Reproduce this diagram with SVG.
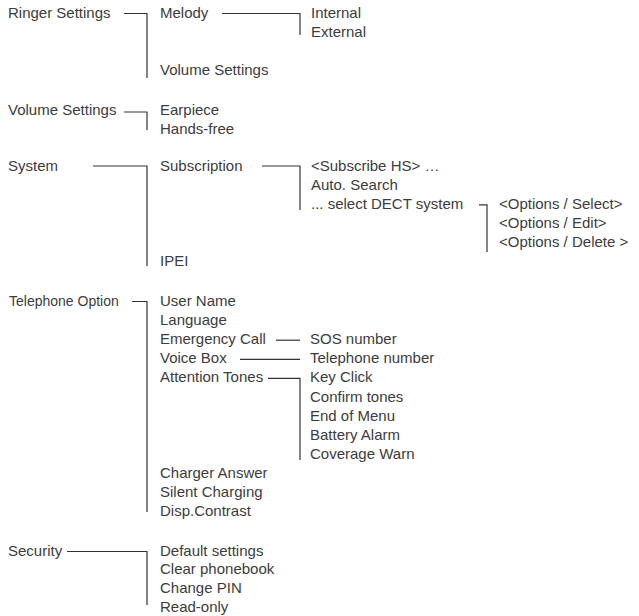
<svg xmlns="http://www.w3.org/2000/svg" width="639" height="616" viewBox="0 0 639 616">
<style>
text{font-family:"Liberation Sans",Arial,Helvetica,sans-serif;font-size:15px;fill:#3c3c3c}
text.s{font-size:14px}
.c path{stroke:#333;stroke-width:1.2;fill:none}
</style>
<rect width="639" height="616" fill="#fff"/>
<g class="c" id="connectors">
<path d="M124 13.5H147V78"/>
<path d="M222 13.5H300V35"/>
<path d="M124 112H147V130"/>
<path d="M93 166H147V266"/>
<path d="M262 166H300V210"/>
<path d="M479 204.8H487V252"/>
<path d="M132 301.5H147V512"/>
<path d="M276 340.2H300"/>
<path d="M240 359.3H300"/>
<path d="M268 378.4H300V460"/>
<path d="M67 551.5H147V605"/>
</g>
<g id="ringer-settings"><text x="8" y="17.5">Ringer Settings</text></g>
<g id="melody"><text x="160" y="17.5">Melody</text></g>
<g id="internal"><text x="311" y="17.5">Internal</text></g>
<g id="external"><text x="311" y="36.5">External</text></g>
<g id="ringer-volume-settings"><text x="160" y="75">Volume Settings</text></g>
<g id="volume-settings"><text x="8" y="114.5">Volume Settings</text></g>
<g id="earpiece"><text x="160" y="114.5">Earpiece</text></g>
<g id="hands-free"><text x="160" y="133.5">Hands-free</text></g>
<g id="system"><text x="8" y="170.5">System</text></g>
<g id="subscription"><text x="160" y="170.5">Subscription</text></g>
<g id="subscribe-hs"><text x="311" y="170.5">&lt;Subscribe HS&gt; …</text></g>
<g id="auto-search"><text x="311" y="189.5">Auto. Search</text></g>
<g id="select-dect"><text x="311" y="208.8">... select DECT system</text></g>
<g id="options-select"><text x="499" y="208.8">&lt;Options / Select&gt;</text></g>
<g id="options-edit"><text x="499" y="228">&lt;Options / Edit&gt;</text></g>
<g id="options-delete"><text x="499" y="247.2">&lt;Options / Delete &gt;</text></g>
<g id="ipei"><text x="160" y="266">IPEI</text></g>
<g id="telephone-option"><text class="s" x="9" y="306">Telephone Option</text></g>
<g id="user-name"><text x="160" y="306">User Name</text></g>
<g id="language"><text x="160" y="325.1">Language</text></g>
<g id="emergency-call"><text x="160" y="344.2">Emergency Call</text></g>
<g id="voice-box"><text x="160" y="363.3">Voice Box</text></g>
<g id="attention-tones"><text x="160" y="382.4">Attention Tones</text></g>
<g id="sos-number"><text x="310" y="344.2">SOS number</text></g>
<g id="telephone-number"><text x="310" y="363.3">Telephone number</text></g>
<g id="key-click"><text x="310" y="382.4">Key Click</text></g>
<g id="confirm-tones"><text x="310" y="401.5">Confirm tones</text></g>
<g id="end-of-menu"><text x="310" y="420.6">End of Menu</text></g>
<g id="battery-alarm"><text x="310" y="439.7">Battery Alarm</text></g>
<g id="coverage-warn"><text x="310" y="458.8">Coverage Warn</text></g>
<g id="charger-answer"><text x="160" y="478">Charger Answer</text></g>
<g id="silent-charging"><text x="160" y="497">Silent Charging</text></g>
<g id="disp-contrast"><text x="160" y="516.2">Disp.Contrast</text></g>
<g id="security"><text x="8" y="555.5">Security</text></g>
<g id="default-settings"><text x="160" y="555.5">Default settings</text></g>
<g id="clear-phonebook"><text x="160" y="574.3">Clear phonebook</text></g>
<g id="change-pin"><text x="160" y="593">Change PIN</text></g>
<g id="read-only"><text x="160" y="611.7">Read-only</text></g>
</svg>
